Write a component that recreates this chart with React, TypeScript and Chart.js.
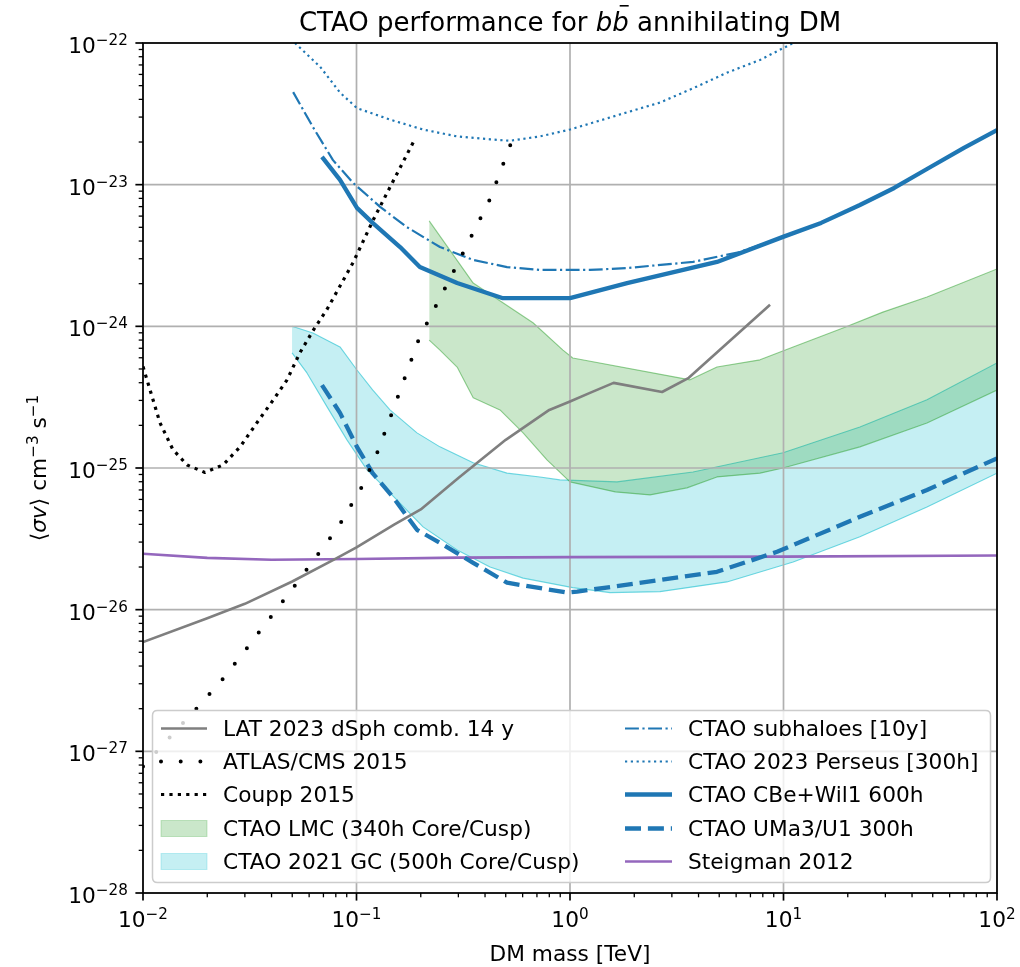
import React, { useEffect, useRef } from "react";
import { Chart, registerables } from "chart.js";

Chart.register(...registerables);

// ---------------- axes ----------------
const X_MIN = 1e-2;
const X_MAX = 1e2;
const Y_MIN = 1e-28;
const Y_MAX = 1e-22;
const X_TICK_EXP = [-2, -1, 0, 1, 2];
const Y_TICK_EXP = [-28, -27, -26, -25, -24, -23, -22];
const MINOR_MULT = [2, 3, 4, 5, 6, 7, 8, 9];

const TITLE_MAIN = "CTAO performance for ";
const TITLE_MATH = "b";
const TITLE_TAIL = " annihilating DM";
const X_LABEL = "DM mass [TeV]";

// ---------------- data (DM mass in TeV, <sigma v> in cm^3 s^-1) ----------------
const latMass = [0.01, 0.02, 0.03, 0.05, 0.08, 0.1, 0.15, 0.2, 0.3, 0.5, 0.8, 1.0, 1.24, 1.6, 2.7, 3.6, 8.65];
const latSigma = [5.9e-27, 8.7e-27, 1.1e-26, 1.58e-26, 2.29e-26, 2.75e-26, 3.98e-26, 5.1e-26, 8.5e-26, 1.58e-25, 2.57e-25, 2.95e-25, 3.39e-25, 3.99e-25, 3.44e-25, 4.33e-25, 1.42e-24];

const atlasMass = [0.01, 0.01175, 0.0181, 0.0239, 0.031, 0.0353, 0.0457, 0.0521, 0.076, 0.0855, 0.106, 0.126, 0.1466, 0.182, 0.196, 0.289, 0.422, 0.53];
const atlasSigma = [7.8e-28, 1.02e-27, 2.06e-27, 3.3e-27, 5.46e-27, 7.08e-27, 1.17e-26, 1.52e-26, 3.27e-26, 4.24e-26, 7.36e-26, 1.32e-25, 2.45e-25, 5.98e-25, 8.15e-25, 2.54e-24, 7.9e-24, 1.97e-23];

const couppMass = [0.01, 0.012, 0.0138, 0.0161, 0.0195, 0.0237, 0.0285, 0.0342, 0.0406, 0.0472, 0.0543, 0.0625, 0.0728, 0.0964, 0.1195, 0.148, 0.186];
const couppSigma = [5.2e-25, 2.09e-25, 1.35e-25, 1.05e-25, 9.3e-26, 1.05e-25, 1.41e-25, 2.09e-25, 3.0e-25, 4.17e-25, 6.5e-25, 9.3e-25, 1.32e-24, 2.82e-24, 5.6e-24, 1.05e-23, 2.04e-23];

const subMass = [0.0505, 0.0625, 0.0776, 0.0964, 0.129, 0.172, 0.246, 0.352, 0.507, 0.723, 1.24, 1.85, 3.77, 6.25, 9.95, 15, 22.8, 33, 47, 70, 100];
const subSigma = [4.5e-23, 2.55e-23, 1.49e-23, 1.03e-23, 6.97e-24, 5.02e-24, 3.63e-24, 2.94e-24, 2.62e-24, 2.5e-24, 2.5e-24, 2.58e-24, 2.85e-24, 3.35e-24, 4.28e-24, 5.37e-24, 7.19e-24, 9.48e-24, 1.29e-23, 1.82e-23, 2.43e-23];

const persMass = [0.0515, 0.0675, 0.0837, 0.1005, 0.1435, 0.205, 0.296, 0.422, 0.523, 0.723, 1.0, 1.85, 2.64, 3.77, 5.43, 7.76, 11.1];
const persSigma = [1.0e-22, 6.8e-23, 4.47e-23, 3.47e-23, 2.88e-23, 2.45e-23, 2.19e-23, 2.09e-23, 2.04e-23, 2.19e-23, 2.45e-23, 3.24e-23, 3.8e-23, 4.79e-23, 6.17e-23, 7.59e-23, 1.0e-22];

const cbeMass = [0.0689, 0.0837, 0.1005, 0.119, 0.16, 0.198, 0.296, 0.485, 1.0, 1.85, 4.88, 9.95, 15, 22.8, 33, 47, 70, 100];
const cbeSigma = [1.57e-23, 1.08e-23, 6.86e-24, 5.37e-24, 3.63e-24, 2.62e-24, 2.02e-24, 1.58e-24, 1.58e-24, 2.02e-24, 2.85e-24, 4.28e-24, 5.37e-24, 7.19e-24, 9.48e-24, 1.29e-23, 1.82e-23, 2.43e-23];

const umaMass = [0.0689, 0.0837, 0.1005, 0.119, 0.148, 0.192, 0.246, 0.352, 0.507, 0.968, 1.08, 2.64, 4.88, 9.33, 22.8, 47, 100];
const umaSigma = [3.85e-25, 2.45e-25, 1.41e-25, 9.2e-26, 6.25e-26, 3.66e-26, 2.96e-26, 2.14e-26, 1.55e-26, 1.32e-26, 1.34e-26, 1.62e-26, 1.85e-26, 2.56e-26, 4.52e-26, 7.0e-26, 1.17e-25];

const steigMass = [0.01, 0.02, 0.04, 0.1, 0.3, 1, 10, 100];
const steigSigma = [2.48e-26, 2.32e-26, 2.25e-26, 2.28e-26, 2.33e-26, 2.35e-26, 2.37e-26, 2.41e-26];

const lmcUpMass = [0.219, 0.352, 0.671, 0.927, 1.03, 3.65, 4.88, 7.76, 11.1, 19.0, 29.2, 47, 100];
const lmcUpSigma = [5.55e-24, 2.02e-24, 1.06e-24, 6.8e-25, 5.98e-25, 4.19e-25, 5.16e-25, 5.8e-25, 7.16e-25, 9.75e-25, 1.26e-24, 1.61e-24, 2.54e-24];
const lmcLoMass = [0.219, 0.246, 0.296, 0.352, 0.47, 0.603, 0.78, 1.0, 1.63, 2.37, 3.53, 4.88, 7.76, 9.95, 22.8, 47, 100];
const lmcLoSigma = [8.0e-25, 6.8e-25, 5.16e-25, 3.13e-25, 2.57e-25, 1.77e-25, 1.14e-25, 7.98e-26, 6.78e-26, 6.46e-26, 7.24e-26, 8.65e-26, 9.2e-26, 1.0e-25, 1.41e-25, 2.08e-25, 3.55e-25];

const gcUpMass = [0.0499, 0.0625, 0.0837, 0.1005, 0.119, 0.1435, 0.192, 0.246, 0.352, 0.507, 0.723, 0.897, 1.66, 3.77, 9.95, 22.8, 47, 100];
const gcUpSigma = [1.0e-24, 8.97e-25, 7.16e-25, 4.92e-25, 3.56e-25, 2.57e-25, 1.77e-25, 1.41e-25, 1.09e-25, 9.2e-26, 8.65e-26, 8.24e-26, 7.98e-26, 9.38e-26, 1.28e-25, 1.95e-25, 3.03e-25, 5.52e-25];
const gcLoMass = [0.0499, 0.0586, 0.0728, 0.0902, 0.112, 0.1435, 0.205, 0.296, 0.422, 0.603, 1.03, 1.54, 2.64, 5.43, 11.1, 22.8, 47, 100];
const gcLoSigma = [6.49e-25, 4.69e-25, 2.7e-25, 1.58e-25, 9.7e-26, 6.67e-26, 3.84e-26, 2.64e-26, 2.0e-26, 1.67e-26, 1.43e-26, 1.32e-26, 1.34e-26, 1.57e-26, 2.17e-26, 3.27e-26, 5.31e-26, 9.2e-26];

// ---------------- styles ----------------
const BLUE = "#1f77b4";
const FAM = "'DejaVu Sans', 'Liberation Sans', sans-serif";
const FS = 21.7;
const SUP = FS * 0.7;
const SUP_RISE = 8;
const TITLE_FS = 26;

const pts = (xs: number[], ys: number[]) => xs.map((x, i) => ({ x, y: ys[i] }));
const font = (size: number, italic = false) => `${italic ? "italic " : ""}${size}px ${FAM}`;

type Seg = { t: string; size: number; italic?: boolean; rise?: number; bar?: boolean };

function segsWidth(ctx: CanvasRenderingContext2D, segs: Seg[]) {
  let w = 0;
  for (const s of segs) {
    ctx.font = font(s.size, s.italic);
    w += ctx.measureText(s.t).width;
  }
  return w;
}

function drawSegs(ctx: CanvasRenderingContext2D, segs: Seg[], x: number, y: number) {
  let cx = x;
  ctx.textAlign = "left";
  ctx.textBaseline = "alphabetic";
  for (const s of segs) {
    ctx.font = font(s.size, s.italic);
    ctx.fillText(s.t, cx, y - (s.rise || 0));
    const w = ctx.measureText(s.t).width;
    if (s.bar) {
      ctx.save();
      ctx.strokeStyle = ctx.fillStyle as string;
      ctx.lineWidth = 1.6;
      ctx.beginPath();
      ctx.moveTo(cx + w * 0.45, y - s.size * 0.97);
      ctx.lineTo(cx + w * 0.45 + 9, y - s.size * 0.97);
      ctx.stroke();
      ctx.restore();
    }
    cx += w;
  }
}

const powSegs = (e: number): Seg[] => [
  { t: "10", size: FS },
  { t: (e < 0 ? "\u2212" : "") + Math.abs(e), size: SUP, rise: SUP_RISE },
];

const LEGEND_COL1 = [0, 1, 2, 8, 10];
const LEGEND_COL2 = [3, 4, 5, 6, 7];

const decorPlugin = {
  id: "decor",
  afterDatasetDraw(chart: any, args: any) {
    // matplotlib draws grid above filled bands but below lines
    if (args.index !== 8) return;
    const { ctx, chartArea: a, scales } = chart;
    ctx.save();
    ctx.strokeStyle = "#b0b0b0";
    ctx.lineWidth = 1.7;
    for (const e of X_TICK_EXP) {
      const px = scales.x.getPixelForValue(Math.pow(10, e));
      ctx.beginPath();
      ctx.moveTo(px, a.top);
      ctx.lineTo(px, a.bottom);
      ctx.stroke();
    }
    for (const e of Y_TICK_EXP) {
      const py = scales.y.getPixelForValue(Math.pow(10, e));
      ctx.beginPath();
      ctx.moveTo(a.left, py);
      ctx.lineTo(a.right, py);
      ctx.stroke();
    }
    ctx.restore();
  },
  afterDraw(chart: any) {
    const { ctx, chartArea: a, scales } = chart;
    const xs = scales.x;
    const ys = scales.y;
    ctx.save();

    // spines
    ctx.strokeStyle = "#000";
    ctx.lineWidth = 1.7;
    ctx.strokeRect(a.left, a.top, a.right - a.left, a.bottom - a.top);

    // ticks
    const tick = (x1: number, y1: number, x2: number, y2: number, lw: number) => {
      ctx.lineWidth = lw;
      ctx.beginPath();
      ctx.moveTo(x1, y1);
      ctx.lineTo(x2, y2);
      ctx.stroke();
    };
    for (let e = X_TICK_EXP[0]; e <= X_TICK_EXP[X_TICK_EXP.length - 1]; e++) {
      const px = xs.getPixelForValue(Math.pow(10, e));
      tick(px, a.bottom, px, a.bottom + 7.6, 1.7);
      if (e < X_TICK_EXP[X_TICK_EXP.length - 1]) {
        for (const m of MINOR_MULT) {
          const mx = xs.getPixelForValue(m * Math.pow(10, e));
          tick(mx, a.bottom, mx, a.bottom + 4.3, 1.3);
        }
      }
    }
    for (let e = Y_TICK_EXP[0]; e <= Y_TICK_EXP[Y_TICK_EXP.length - 1]; e++) {
      const py = ys.getPixelForValue(Math.pow(10, e));
      tick(a.left, py, a.left - 7.6, py, 1.7);
      if (e < Y_TICK_EXP[Y_TICK_EXP.length - 1]) {
        for (const m of MINOR_MULT) {
          const my = ys.getPixelForValue(m * Math.pow(10, e));
          tick(a.left, my, a.left - 4.3, my, 1.3);
        }
      }
    }

    // tick labels
    ctx.fillStyle = "#000";
    for (const e of X_TICK_EXP) {
      const px = xs.getPixelForValue(Math.pow(10, e));
      const segs = powSegs(e);
      const w = segsWidth(ctx, segs);
      drawSegs(ctx, segs, px - w / 2, a.bottom + 34);
    }
    for (const e of Y_TICK_EXP) {
      const py = ys.getPixelForValue(Math.pow(10, e));
      const segs = powSegs(e);
      const w = segsWidth(ctx, segs);
      drawSegs(ctx, segs, a.left - 15.2 - w, py + 10);
    }

    // x label
    const cxm = (a.left + a.right) / 2;
    ctx.font = font(FS);
    ctx.textAlign = "center";
    ctx.textBaseline = "alphabetic";
    ctx.fillText(X_LABEL, cxm, 961);

    // y label
    const ySegs: Seg[] = [
      { t: "\u27E8", size: FS },
      { t: "\u03C3v", size: FS, italic: true },
      { t: "\u27E9 cm", size: FS },
      { t: "\u22123", size: SUP, rise: SUP_RISE },
      { t: " s", size: FS },
      { t: "\u22121", size: SUP, rise: SUP_RISE },
    ];
    ctx.save();
    ctx.translate(46, (a.top + a.bottom) / 2);
    ctx.rotate(-Math.PI / 2);
    const yw = segsWidth(ctx, ySegs);
    drawSegs(ctx, ySegs, -yw / 2, 0);
    ctx.restore();

    // title
    const tSegs: Seg[] = [
      { t: TITLE_MAIN, size: TITLE_FS },
      { t: TITLE_MATH, size: TITLE_FS, italic: true },
      { t: TITLE_MATH, size: TITLE_FS, italic: true, bar: true },
      { t: TITLE_TAIL, size: TITLE_FS },
    ];
    const tw = segsWidth(ctx, tSegs);
    ctx.fillStyle = "#000";
    drawSegs(ctx, tSegs, cxm - tw / 2, 31);

    // legend
    const lx = 152.5, ly = 710.5, lw = 838, lh = 172, r = 5;
    ctx.beginPath();
    ctx.moveTo(lx + r, ly);
    ctx.lineTo(lx + lw - r, ly);
    ctx.quadraticCurveTo(lx + lw, ly, lx + lw, ly + r);
    ctx.lineTo(lx + lw, ly + lh - r);
    ctx.quadraticCurveTo(lx + lw, ly + lh, lx + lw - r, ly + lh);
    ctx.lineTo(lx + r, ly + lh);
    ctx.quadraticCurveTo(lx, ly + lh, lx, ly + lh - r);
    ctx.lineTo(lx, ly + r);
    ctx.quadraticCurveTo(lx, ly, lx + r, ly);
    ctx.closePath();
    ctx.fillStyle = "rgba(255,255,255,0.8)";
    ctx.fill();
    ctx.strokeStyle = "#cccccc";
    ctx.lineWidth = 1.5;
    ctx.stroke();

    const baselines = [736, 769, 802, 836, 869];
    const cols = [
      { items: LEGEND_COL1, h0: 161, h1: 207, tx: 223 },
      { items: LEGEND_COL2, h0: 625, h1: 672, tx: 688 },
    ];
    for (const col of cols) {
      col.items.forEach((di, row) => {
        const ds = chart.data.datasets[di];
        const by = baselines[row];
        const cy = by - 7.5;
        ctx.save();
        if (ds.fill) {
          ctx.fillStyle = ds.backgroundColor;
          ctx.fillRect(col.h0, cy - 8, col.h1 - col.h0, 16);
          ctx.strokeStyle = ds.backgroundColor;
          ctx.lineWidth = 1;
          ctx.strokeRect(col.h0, cy - 8, col.h1 - col.h0, 16);
        } else {
          ctx.strokeStyle = ds.borderColor;
          ctx.lineWidth = ds.borderWidth;
          ctx.lineCap = ds.borderCapStyle || "butt";
          ctx.setLineDash(ds.borderDash || []);
          ctx.beginPath();
          ctx.moveTo(col.h0, cy);
          ctx.lineTo(col.h1, cy);
          ctx.stroke();
        }
        ctx.restore();
        ctx.fillStyle = "#000";
        ctx.font = font(FS);
        ctx.textAlign = "left";
        ctx.textBaseline = "alphabetic";
        ctx.fillText(ds.label, col.tx, by);
      });
    }
    ctx.restore();
  },
};

const line = (label: string, xs: number[], ys: number[], extra: any) => ({
  label,
  data: pts(xs, ys),
  pointRadius: 0,
  pointHoverRadius: 0,
  tension: 0,
  fill: false,
  borderJoinStyle: "round",
  ...extra,
});

export default function App() {
  const ref = useRef<HTMLCanvasElement>(null);

  useEffect(() => {
    if (!ref.current) return;
    const datasets: any[] = [
      line("LAT 2023 dSph comb. 14 y", latMass, latSigma, { borderColor: "#7f7f7f", borderWidth: 2.6 }),
      line("ATLAS/CMS 2015", atlasMass, atlasSigma, {
        borderColor: "#000", borderWidth: 4, borderDash: [0, 19.7], borderCapStyle: "round",
      }),
      line("Coupp 2015", couppMass, couppSigma, { borderColor: "#000", borderWidth: 3.2, borderDash: [3.2, 5.2] }),
      line("CTAO subhaloes [10y]", subMass, subSigma, {
        borderColor: BLUE, borderWidth: 2.2, borderDash: [13.9, 3.5, 2.2, 3.5],
      }),
      line("CTAO 2023 Perseus [300h]", persMass, persSigma, {
        borderColor: BLUE, borderWidth: 2.2, borderDash: [2.2, 3.6],
      }),
      line("CTAO CBe+Wil1 600h", cbeMass, cbeSigma, { borderColor: BLUE, borderWidth: 4.3 }),
      line("CTAO UMa3/U1 300h", umaMass, umaSigma, { borderColor: BLUE, borderWidth: 4.3, borderDash: [16, 6.9] }),
      line("Steigman 2012", steigMass, steigSigma, { borderColor: "#9467bd", borderWidth: 2.6 }),
      line("CTAO LMC (340h Core/Cusp)", lmcUpMass, lmcUpSigma, {
        borderColor: "rgba(44,160,44,0.5)", borderWidth: 1.1, backgroundColor: "rgba(44,160,44,0.25)", fill: "+1",
      }),
      line("LMC lower", lmcLoMass, lmcLoSigma, { borderColor: "rgba(44,160,44,0.5)", borderWidth: 1.1 }),
      line("CTAO 2021 GC (500h Core/Cusp)", gcUpMass, gcUpSigma, {
        borderColor: "rgba(23,190,207,0.6)", borderWidth: 1.1, backgroundColor: "rgba(23,190,207,0.25)", fill: "+1",
      }),
      line("GC lower", gcLoMass, gcLoSigma, { borderColor: "rgba(23,190,207,0.6)", borderWidth: 1.1 }),
    ];

    const chart = new Chart(ref.current, {
      type: "line",
      data: { datasets },
      options: {
        animation: false,
        responsive: false,
        maintainAspectRatio: false,
        events: [],
        layout: { padding: { left: 0, right: 23, top: 43, bottom: 0 } },
        plugins: {
          legend: { display: false },
          title: { display: false },
          tooltip: { enabled: false },
        },
        scales: {
          x: {
            type: "logarithmic",
            min: X_MIN,
            max: X_MAX,
            position: "bottom",
            ticks: { display: false },
            grid: { display: false },
            border: { display: false },
            afterFit: (s: any) => { s.height = 74; },
          },
          y: {
            type: "logarithmic",
            min: Y_MIN,
            max: Y_MAX,
            position: "left",
            ticks: { display: false },
            grid: { display: false },
            border: { display: false },
            afterFit: (s: any) => { s.width = 143; },
          },
        },
      } as any,
      plugins: [decorPlugin as any],
    });
    return () => chart.destroy();
  }, []);

  return (
    <div style={{ position: "absolute", left: 0, top: 0, width: 1020, height: 967, background: "#fff" }}>
      <canvas ref={ref} width={1020} height={967} style={{ display: "block", width: 1020, height: 967 }} />
    </div>
  );
}
